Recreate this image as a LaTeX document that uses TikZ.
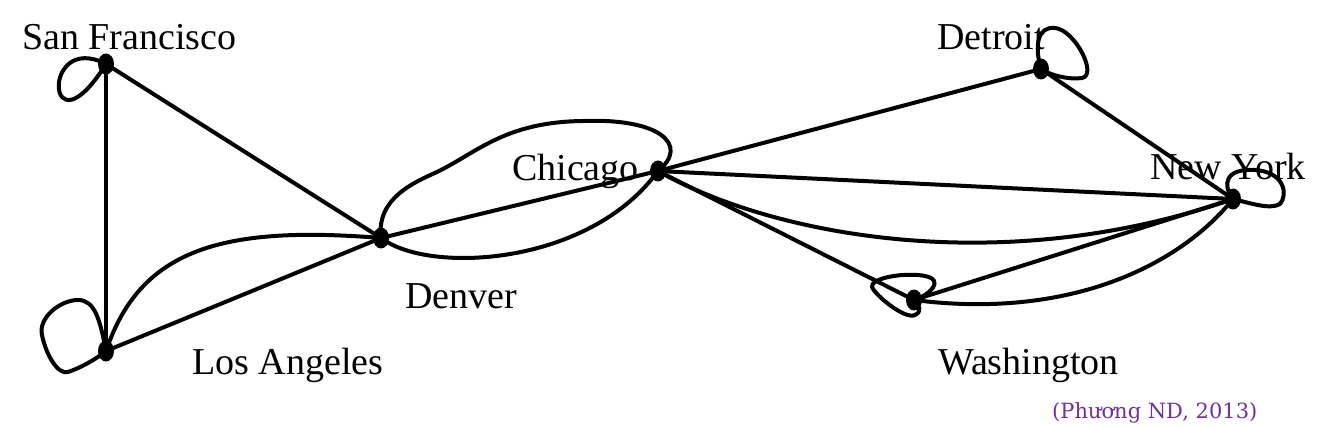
\documentclass[tikz,border=0pt]{standalone}
\usepackage{fontspec}
\setmainfont{Liberation Serif}
\newfontfamily\creditfont{DejaVu Serif}
\usetikzlibrary{shapes.geometric}
\definecolor{creditpurple}{RGB}{112,48,160}
\tikzset{
  edgeline/.style={line width=4pt, black, line cap=round, line join=round},
  citydot/.style={ellipse, fill=black, inner sep=0pt, minimum width=16pt, minimum height=21pt},
  citylabel/.style={anchor=base west, inner sep=0pt, font=\fontsize{38}{40}\selectfont},
  creditlabel/.style={anchor=base west, inner sep=0pt, text=creditpurple, font=\creditfont\fontsize{21}{23}\selectfont}
}
\begin{document}
\begin{tikzpicture}[x=1pt, y=-1pt]
\useasboundingbox (0,0) rectangle (1317,427);
% city positions
\coordinate (SF) at (106,64);
\coordinate (LA) at (106,351);
\coordinate (DEN) at (381,238);
\coordinate (CHI) at (658,171);
\coordinate (DET) at (1041,69);
\coordinate (NY) at (1233,199);
\coordinate (WAS) at (914,300);
% labels
\node[citylabel] (lSF) at (22,50) {San Francisco};
\node[citylabel] (lLA) at (192,375) {Los Angeles};
\node[citylabel] (lDEN) at (405,309) {Denver};
\node[citylabel] (lCHI) at (512,181) {Chicago};
\node[citylabel] (lDET) at (937,50) {Detroit};
\node[citylabel] (lNY) at (1150,180) {New York};
\node[citylabel] (lWAS) at (938,375) {Washington};
\node[creditlabel] (credit) at (1052,418) {(Phương ND, 2013)};
% straight edges
\draw[edgeline] (SF) -- (LA);
\draw[edgeline] (SF) -- (DEN);
\draw[edgeline] (LA) -- (DEN);
\draw[edgeline] (DEN) -- (CHI);
\draw[edgeline] (CHI) -- (DET);
\draw[edgeline] (CHI) -- (NY);
\draw[edgeline] (CHI) -- (WAS);
\draw[edgeline] (WAS) -- (NY);
\draw[edgeline] (DET) -- (NY);
% curved edges
\draw[edgeline] (LA) .. controls (140,250) and (220,225) .. (DEN);
\draw[edgeline] (DEN) .. controls (376,198) and (415,182) .. (437,172)
  .. controls (478,152) and (505,122) .. (583,121)
  .. controls (660,118) and (690,145) .. (CHI);
\draw[edgeline] (DEN) .. controls (430,275) and (590,265) .. (CHI);
\draw[edgeline] (CHI) .. controls (770,235) and (1000,280) .. (NY);
\draw[edgeline] (WAS) .. controls (1070,320) and (1180,265) .. (NY);
% loops
\draw[edgeline] (SF) .. controls (40,30) and (46,160) .. (SF);
\draw[edgeline] (LA) .. controls (100,320) and (95,300) .. (78,300)
  .. controls (60,300) and (38,318) .. (42,335)
  .. controls (46,355) and (58,375) .. (68,372)
  .. controls (80,368) and (95,360) .. (LA);
\draw[edgeline] (DET) .. controls (1034,45) and (1038,26) .. (1055,28)
  .. controls (1075,30) and (1098,75) .. (1082,78)
  .. controls (1068,80) and (1050,75) .. (DET);
\draw[edgeline] (NY) .. controls (1222,185) and (1225,168) .. (1255,170)
  .. controls (1285,172) and (1288,195) .. (1280,204)
  .. controls (1270,210) and (1250,203) .. (NY);
\draw[edgeline] (WAS) .. controls (930,295) and (945,280) .. (925,276)
  .. controls (905,272) and (870,278) .. (872,287)
  .. controls (875,295) and (905,320) .. (915,315)
  .. controls (922,312) and (920,305) .. (WAS);
% dots
\node[citydot] (dSF) at (SF) {};
\node[citydot] (dLA) at (LA) {};
\node[citydot] (dDEN) at (DEN) {};
\node[citydot] (dCHI) at (CHI) {};
\node[citydot] (dDET) at (DET) {};
\node[citydot] (dNY) at (NY) {};
\node[citydot] (dWAS) at (WAS) {};
\end{tikzpicture}
\end{document}
